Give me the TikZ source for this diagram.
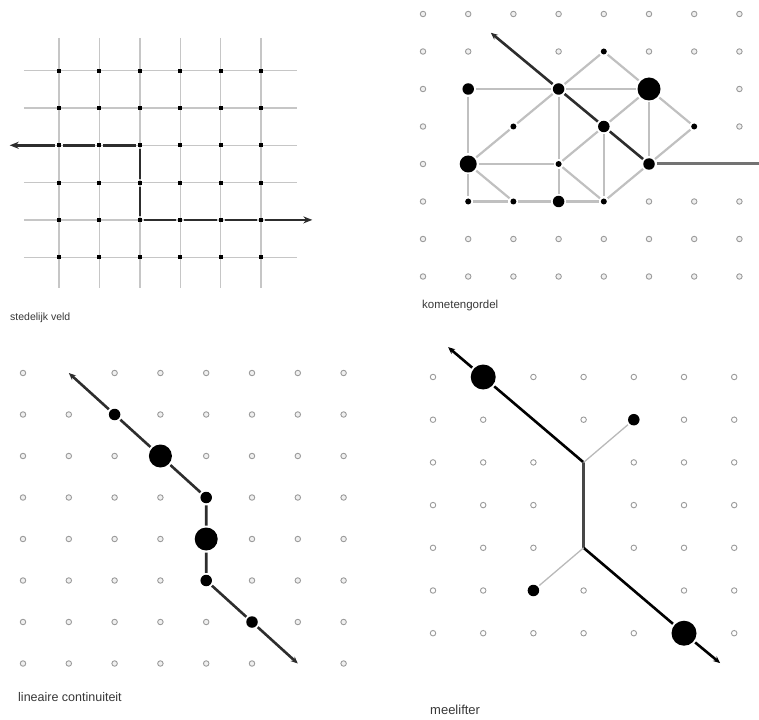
\documentclass[tikz,border=0pt]{standalone}
\usepackage{fontspec}
\setmainfont{Liberation Sans}
\usetikzlibrary{arrows.meta}
\definecolor{edgegray}{RGB}{192,192,192}
\definecolor{ringgray}{RGB}{155,155,155}
\definecolor{pathdark}{RGB}{45,45,45}
\definecolor{labelgray}{RGB}{55,55,55}

\begin{document}
\begin{tikzpicture}[x=1pt, y=-1pt, >={Stealth[length=7pt,width=6pt]},
  ring/.style={circle, draw=ringgray, fill=gray!12, line width=0.9pt, inner sep=0pt, minimum size=5.5pt},
  sdot/.style={circle, fill=black, inner sep=0pt, minimum size=6pt, outer sep=2pt},
  mdot/.style={sdot, minimum size=11.5pt},
  ldot/.style={sdot, minimum size=17pt},
  xldot/.style={sdot, minimum size=23pt},
  griddot/.style={rectangle, fill=black, inner sep=0pt, minimum size=4pt, outer sep=2pt},
  gridline/.style={draw=gray!45, line width=1.4pt},
  lightedge/.style={draw=edgegray, line width=2.2pt},
  mainline/.style={draw=pathdark, line width=2.6pt},
  caption/.style={anchor=west, inner sep=0pt, text=labelgray}]
  \useasboundingbox (0,0) rectangle (759,719);

  % stedelijk veld
  \begin{scope}[shift={(59,70.7)}, x=40.4pt, y=-37.3pt]
    \foreach \i in {0,...,5} {
      \draw[gridline] (\i,-0.88) -- (\i,5.83);
      \draw[gridline] (-0.87,\i) -- (5.9,\i);
    }
    \foreach \c in {0,...,5}
      \foreach \r in {0,...,5}
        \node[griddot] (v-\c-\r) at (\c,\r) {};
    \coordinate (vW) at (-1.22,2);
    \coordinate (vE) at (6.27,4);
    \draw[mainline, -{Stealth[length=9pt,width=7pt]}] (v-0-2) -- (vW);
    \draw[mainline] (v-2-2) -- (v-1-2) (v-1-2) -- (v-0-2);
    \draw[mainline] (v-2-2) -- (v-2-3) (v-2-3) -- (v-2-4);
    \draw[mainline] (v-2-4) -- (v-3-4) (v-3-4) -- (v-4-4) (v-4-4) -- (v-5-4);
    \draw[mainline, -{Stealth[length=9pt,width=7pt]}] (v-5-4) -- (vE);
  \end{scope}

  % kometengordel
  \begin{scope}[shift={(423,14)}, x=45.2pt, y=-37.5pt]
    \foreach \r/\cols in {0/{0,...,7}, 1/{0,1,3,5,6,7}, 2/{0,7}, 3/{0,7}, 4/{0},
                          5/{0,5,6,7}, 6/{0,...,7}, 7/{0,...,7}}
      \foreach \c in \cols
        \node[ring] (kr-\c-\r) at (\c,\r) {};
    \node[sdot]  (k-4-1) at (4,1) {};
    \node[mdot]  (k-1-2) at (1,2) {};
    \node[mdot]  (k-3-2) at (3,2) {};
    \node[xldot] (k-5-2) at (5,2) {};
    \node[sdot]  (k-2-3) at (2,3) {};
    \node[mdot]  (k-4-3) at (4,3) {};
    \node[sdot]  (k-6-3) at (6,3) {};
    \node[ldot]  (k-1-4) at (1,4) {};
    \node[sdot]  (k-3-4) at (3,4) {};
    \node[mdot]  (k-5-4) at (5,4) {};
    \node[sdot]  (k-1-5) at (1,5) {};
    \node[sdot]  (k-2-5) at (2,5) {};
    \node[mdot]  (k-3-5) at (3,5) {};
    \node[sdot]  (k-4-5) at (4,5) {};
    \coordinate (kNW) at (1.5,0.5);
    \coordinate (kE) at (7.45,4);
    \foreach \a/\b in {1-2/3-2, 3-2/5-2, 3-2/4-1, 4-1/5-2, 5-2/6-3, 6-3/5-4, 5-2/5-4,
                       5-2/4-3, 1-2/1-4, 1-4/1-5, 1-4/2-3, 2-3/3-2, 1-4/3-4, 3-2/3-4,
                       3-4/3-5, 3-4/4-3, 4-3/4-5, 3-4/4-5, 4-5/5-4, 1-4/2-5, 1-5/2-5,
                       2-5/3-5, 3-5/4-5}
      \draw[lightedge] (k-\a) -- (k-\b);
    \draw[mainline] (k-5-4) -- (k-4-3) (k-4-3) -- (k-3-2);
    \draw[mainline, ->] (k-3-2) -- (kNW);
    \draw[draw=black!55, line width=3pt] (k-5-4) -- (kE);
  \end{scope}

  % lineaire continuiteit
  \begin{scope}[shift={(23,373)}, x=45.8pt, y=-41.5pt]
    \foreach \r/\cols in {0/{0,2,3,4,5,6,7}, 1/{0,1,3,4,5,6,7}, 2/{0,1,2,4,5,6,7},
                          3/{0,1,2,3,5,6,7}, 4/{0,1,2,3,5,6,7}, 5/{0,1,2,3,5,6,7},
                          6/{0,1,2,3,4,6,7}, 7/{0,1,2,3,4,5,7}}
      \foreach \c in \cols
        \node[ring] (lr-\c-\r) at (\c,\r) {};
    \node[mdot]  (l-2-1) at (2,1) {};
    \node[xldot] (l-3-2) at (3,2) {};
    \node[mdot]  (l-4-3) at (4,3) {};
    \node[xldot] (l-4-4) at (4,4) {};
    \node[mdot]  (l-4-5) at (4,5) {};
    \node[mdot]  (l-5-6) at (5,6) {};
    \coordinate (lNW) at (1,0);
    \coordinate (lSE) at (6,7);
    \draw[mainline, <-] (lNW) -- (l-2-1);
    \draw[mainline] (l-2-1) -- (l-3-2) (l-3-2) -- (l-4-3) (l-4-3) -- (l-4-4)
      (l-4-4) -- (l-4-5) (l-4-5) -- (l-5-6);
    \draw[mainline, ->] (l-5-6) -- (lSE);
  \end{scope}

  % meelifter
  \begin{scope}[shift={(433,377)}, x=50.2pt, y=-42.7pt]
    \foreach \r/\cols in {0/{0,2,3,4,5,6}, 1/{0,1,3,5,6}, 2/{0,1,2,4,5,6}, 3/{0,1,2,4,5,6},
                          4/{0,1,2,4,5,6}, 5/{0,1,3,5,6}, 6/{0,1,2,3,4,6}}
      \foreach \c in \cols
        \node[ring, fill=white] (mr-\c-\r) at (\c,\r) {};
    \node[xldot, minimum size=25pt] (m-1-0) at (1,0) {};
    \node[mdot] (m-4-1) at (4,1) {};
    \node[mdot] (m-2-5) at (2,5) {};
    \node[xldot, minimum size=25pt] (m-5-6) at (5,6) {};
    \coordinate (mJ1) at (3,2);
    \coordinate (mJ2) at (3,4);
    \coordinate (mNW) at (0.3,-0.7);
    \coordinate (mSE) at (5.72,6.7);
    \draw[mainline, draw=black, ->] (m-1-0) -- (mNW);
    \draw[mainline, draw=black] (m-1-0) -- (mJ1);
    \draw[draw=black!72, line width=3pt] (mJ1) -- (mJ2);
    \draw[mainline, draw=black] (mJ2) -- (m-5-6);
    \draw[mainline, draw=black, ->] (m-5-6) -- (mSE);
    \draw[draw=gray!55, line width=1.3pt] (mJ1) -- (m-4-1);
    \draw[draw=gray!55, line width=1.3pt] (mJ2) -- (m-2-5);
  \end{scope}

  % captions
  \node[caption, font=\fontsize{10.5}{12}\selectfont] (capV) at (10,318) {stedelijk veld};
  \node[caption, font=\fontsize{11.5}{13}\selectfont] (capK) at (422,306) {kometengordel};
  \node[caption, font=\fontsize{12.5}{14}\selectfont] (capL) at (18,697) {lineaire continuiteit};
  \node[caption, font=\fontsize{13}{15}\selectfont] (capM) at (430,710) {meelifter};
\end{tikzpicture}
\end{document}
